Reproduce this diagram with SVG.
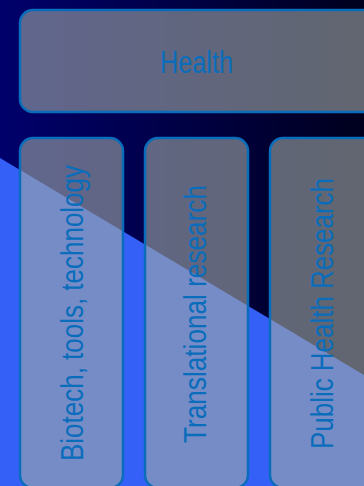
<svg xmlns="http://www.w3.org/2000/svg" width="364" height="486" viewBox="0 0 364 486">
<defs>
<linearGradient id="bg" x1="0" y1="0" x2="1" y2="0">
<stop offset="0" stop-color="#00006c"/>
<stop offset="1" stop-color="#00001e"/>
</linearGradient>
<style>
.box{fill:#a2aaa6;fill-opacity:0.6;stroke:#0a6dbb;stroke-width:2.5}
.lbl{font-family:"Liberation Sans",Arial,sans-serif;font-size:31px;fill:#0a6dbb}
</style>
</defs>
<rect x="0" y="0" width="364" height="486" fill="url(#bg)"/>
<polygon points="0,158 364,375 364,486 0,486" fill="#3560f8"/>
<g id="health">
<rect class="box" x="20" y="10" width="362" height="102" rx="13"/>
<text class="lbl" x="196.5" y="73" font-size="32" text-anchor="middle" textLength="73" lengthAdjust="spacingAndGlyphs">Health</text>
</g>
<g id="biotech">
<rect class="box" x="20" y="138" width="103" height="350" rx="13"/>
<text class="lbl" transform="translate(83,461) rotate(-90)" x="0" y="0" textLength="296" lengthAdjust="spacingAndGlyphs">Biotech, tools, technology</text>
</g>
<g id="translational">
<rect class="box" x="145" y="138" width="103" height="350" rx="13"/>
<text class="lbl" transform="translate(206,443) rotate(-90)" x="0" y="0" textLength="258" lengthAdjust="spacingAndGlyphs">Translational research</text>
</g>
<g id="public">
<rect class="box" x="270" y="138" width="110" height="350" rx="13"/>
<text class="lbl" transform="translate(333,449) rotate(-90)" x="0" y="0" textLength="271" lengthAdjust="spacingAndGlyphs">Public Health Research</text>
</g>
<g id="connectors"/>
</svg>
